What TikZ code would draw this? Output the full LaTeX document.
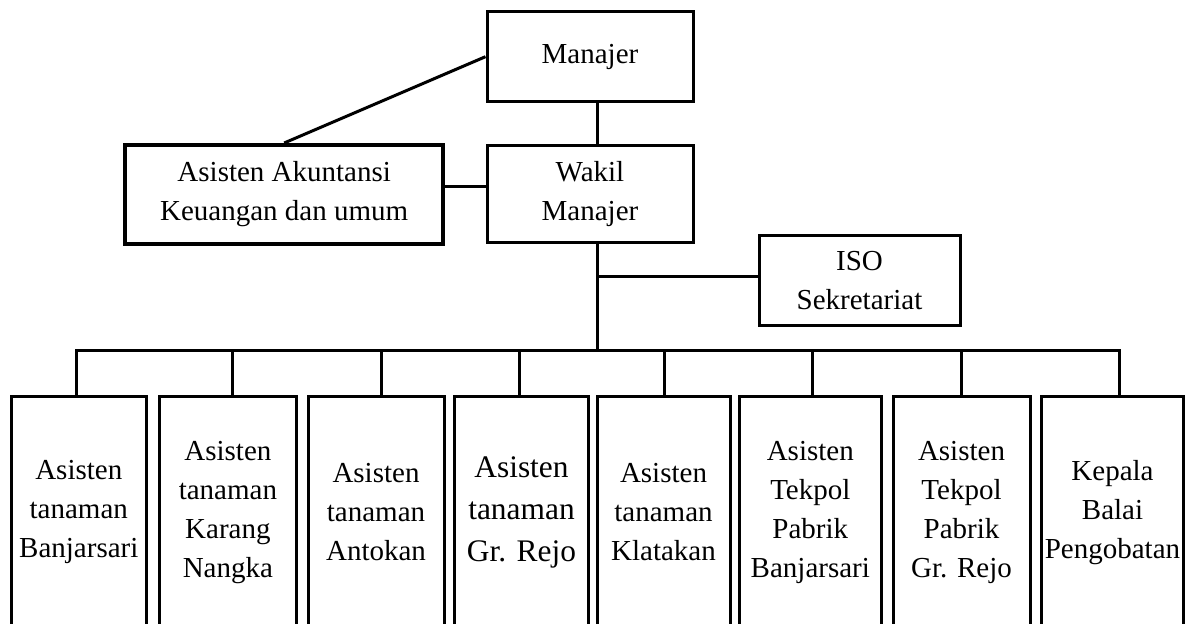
\documentclass[tikz,border=0pt]{standalone}
\usepackage{fontspec}
\setmainfont{Liberation Serif}
\begin{document}
\begin{tikzpicture}[x=0.5pt,y=-0.5pt,
  box/.style={draw, line width=1.5pt, rectangle, inner sep=0pt, align=center,
    font=\fontsize{14.5}{19.5}\selectfont},
  thickbox/.style={box, line width=2pt},
  lowbox/.style={box, minimum height=116pt},
  conn/.style={line width=1.5pt}]
\useasboundingbox[fill=white] (0,0) rectangle (1188,624);
% top level
\node[box, minimum width=103pt, minimum height=45pt] (mgr) at (590,56.7) {Manajer};
\node[box, minimum width=103pt, minimum height=48.85pt] (wak) at (590,193.9) {Wakil\\Manajer};
\node[thickbox, minimum width=159.2pt, minimum height=49.5pt] (akun) at (284.2,194.5) {Asisten Akuntansi\\Keuangan dan umum};
\node[box, minimum width=100.5pt, minimum height=45.3pt] (iso) at (859.5,280.4) {ISO\\Sekretariat};
% bottom row
\node[lowbox, minimum width=67.8pt] (b1) at (78.8,512.4) {Asisten\\tanaman\\Banjarsari};
\node[lowbox, minimum width=68.8pt] (b2) at (227.9,512.4) {Asisten\\tanaman\\Karang\\Nangka};
\node[lowbox, minimum width=68pt] (b3) at (376,512.4) {Asisten\\tanaman\\Antokan};
\node[lowbox, minimum width=67pt, font=\fontsize{15.7}{21}\selectfont] (b4) at (521.5,512.4) {Asisten\\tanaman\\Gr. Rejo};
\node[lowbox, minimum width=66.5pt] (b5) at (663.5,512.4) {Asisten\\tanaman\\Klatakan};
\node[lowbox, minimum width=71.3pt] (b6) at (810.3,512.4) {Asisten\\Tekpol\\Pabrik\\Banjarsari};
\node[lowbox, minimum width=68.5pt] (b7) at (961.5,512.4) {Asisten\\Tekpol\\Pabrik\\Gr. Rejo};
\node[lowbox, minimum width=70.8pt] (b8) at (1112.5,512.4) {Kepala\\Balai\\Pengobatan};
% helper coordinates
\coordinate (trunk) at (597,0);
\coordinate (hak) at (0,186.7);
\coordinate (hiso) at (0,276.7);
\coordinate (d1) at (76.7,351);
\coordinate (d2) at (232.7,351);
\coordinate (d3) at (381,351);
\coordinate (d4) at (519,351);
\coordinate (d5) at (664,351);
\coordinate (d6) at (812.7,351);
\coordinate (d7) at (961,351);
\coordinate (d8) at (1119,351);
% connectors
\draw[conn] (akun.north) -- (mgr.west);
\draw[conn] (mgr.south -| trunk) -- (wak.north -| trunk);
\draw[conn] (akun.east |- hak) -- (wak.west |- hak);
\draw[conn] (wak.south -| trunk) -- (d1 -| trunk);
\draw[conn] (hiso -| trunk) -- (iso.west |- hiso);
\draw[conn, line cap=rect] (d1) -- (d8);
\foreach \i in {1,...,8} {\draw[conn] (d\i) -- (d\i |- b\i.north);}
\end{tikzpicture}
\end{document}
